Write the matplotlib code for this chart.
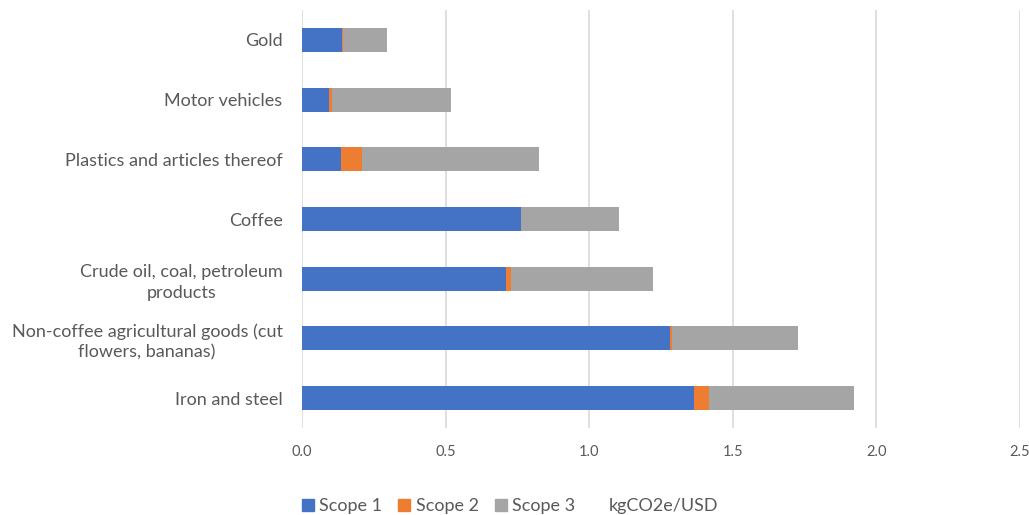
import numpy as np
import matplotlib
matplotlib.use("Agg")
import matplotlib.pyplot as plt
from matplotlib.patches import Patch

plt.rcParams['font.family'] = ['Lato', 'DejaVu Sans']

categories = ["Gold", "Motor vehicles", "Plastics and articles thereof", "Coffee",
              "Crude oil, coal, petroleum\nproducts",
              "Non-coffee agricultural goods (cut\nflowers, bananas)",
              "Iron and steel"]
scope1 = [0.139, 0.094, 0.136, 0.762, 0.711, 1.281, 1.364]
scope2 = [0.004, 0.009, 0.072, 0.0, 0.018, 0.009, 0.053]
scope3 = [0.154, 0.416, 0.618, 0.343, 0.493, 0.436, 0.504]
xticks = [0.0, 0.5, 1.0, 1.5, 2.0, 2.5]

c1, c2, c3 = "#4472C4", "#ED7D31", "#A5A5A5"
txt = "#595959"

fig = plt.figure(figsize=(10.29, 5.15), dpi=100)
ax = fig.add_axes([302 / 1029, 1 - 428 / 515, (1020 - 302) / 1029, (428 - 10) / 515])

y = np.arange(len(categories))
s1 = np.array(scope1)
s2 = np.array(scope2)
s3 = np.array(scope3)
h = 0.4
ax.barh(y, s1, height=h, color=c1, zorder=3)
ax.barh(y, s2, height=h, left=s1, color=c2, zorder=3)
ax.barh(y, s3, height=h, left=s1 + s2, color=c3, zorder=3)

ax.set_xlim(0, 2.5)
ax.set_ylim(len(categories) - 0.5, -0.5)
ax.set_xticks(xticks)
ax.set_xticklabels([f"{v:.1f}" for v in xticks])
ax.set_yticks(y)
ax.set_yticklabels(categories, multialignment='center', linespacing=1.35)
ax.tick_params(axis='both', length=0, colors=txt)
ax.tick_params(axis='x', pad=12, labelsize=10.5)
ax.tick_params(axis='y', pad=14, labelsize=13)
ax.grid(axis='x', color="#D9D9D9", linewidth=1.2, zorder=0)
for s in ax.spines.values():
    s.set_visible(False)

handles = [Patch(color=c1), Patch(color=c2), Patch(color=c3), Patch(color='none')]
labels = ["Scope 1", "Scope 2", "Scope 3", "kgCO2e/USD"]
leg = fig.legend(handles, labels, loc='lower center', bbox_to_anchor=(510 / 1029, -0.03),
                 ncol=4, frameon=False, fontsize=13, handlelength=0.65, handleheight=0.65,
                 handletextpad=0.3, columnspacing=0.9)
for t in leg.get_texts():
    t.set_color(txt)

fig.savefig("out.png", dpi=100)
